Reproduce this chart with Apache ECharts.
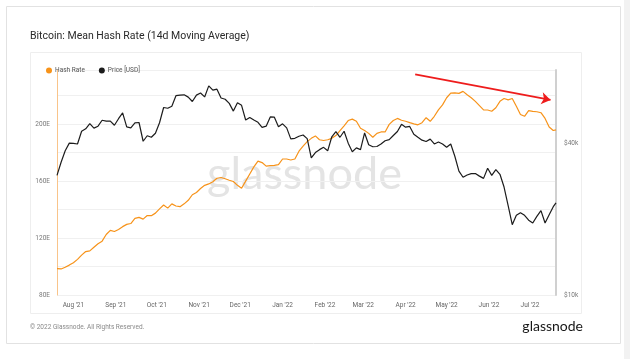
<!DOCTYPE html>
<html><head><meta charset="utf-8">
<script src="https://cdn.jsdelivr.net/npm/echarts@6/dist/echarts.min.js"></script>
<style>html,body{margin:0;padding:0;background:#fff;overflow:hidden}#c{width:630px;height:359px}</style>
</head><body><div id="c"></div>
<script>
// ---- categories (dates) ----
const dates = [
'2021-07-20','2021-07-23','2021-07-26','2021-07-29','2021-08-01','2021-08-04','2021-08-07','2021-08-10','2021-08-13','2021-08-16',
'2021-08-19','2021-08-22','2021-08-25','2021-08-28','2021-08-31','2021-09-03','2021-09-06','2021-09-09','2021-09-12','2021-09-15',
'2021-09-18','2021-09-21','2021-09-24','2021-09-27','2021-09-30','2021-10-03','2021-10-06','2021-10-09','2021-10-12','2021-10-15',
'2021-10-18','2021-10-21','2021-10-24','2021-10-27','2021-10-30','2021-11-02','2021-11-05','2021-11-08','2021-11-11','2021-11-14',
'2021-11-17','2021-11-20','2021-11-23','2021-11-26','2021-11-29','2021-12-02','2021-12-05','2021-12-08','2021-12-11','2021-12-14',
'2021-12-17','2021-12-20','2021-12-23','2021-12-26','2021-12-29','2022-01-01','2022-01-04','2022-01-07','2022-01-10','2022-01-13',
'2022-01-16','2022-01-19','2022-01-22','2022-01-25','2022-01-28','2022-01-31','2022-02-03','2022-02-06','2022-02-09','2022-02-12',
'2022-02-15','2022-02-18','2022-02-21','2022-02-24','2022-02-27','2022-03-02','2022-03-05','2022-03-08','2022-03-11','2022-03-14',
'2022-03-17','2022-03-20','2022-03-23','2022-03-26','2022-03-29','2022-04-01','2022-04-04','2022-04-07','2022-04-10','2022-04-13',
'2022-04-16','2022-04-19','2022-04-22','2022-04-25','2022-04-28','2022-05-01','2022-05-04','2022-05-07','2022-05-10','2022-05-13',
'2022-05-16','2022-05-19','2022-05-22','2022-05-25','2022-05-28','2022-05-31','2022-06-03','2022-06-06','2022-06-09','2022-06-12',
'2022-06-15','2022-06-18','2022-06-21','2022-06-24','2022-06-27','2022-06-30','2022-07-03','2022-07-06','2022-07-09','2022-07-12',
'2022-07-15','2022-07-18','2022-07-20'];

// ---- series: mean hash rate (EH/s, 14d MA) ----
const hashRate = [
98.5,98.3,99.5,101,102.7,105,108,110.5,111,113.5,
116,117.8,122.5,125.4,124.6,126,128,129.6,130.2,133.8,
134.5,133.3,135.8,135.7,137.5,140.5,143.2,141,144,142.5,
142,144,146.5,150.4,152,154.8,157,158,159.5,162,
162.5,161.6,160.6,159.7,157,155,160,165,170,174,
173,170.5,170.8,171,171.5,175.5,175.5,174.8,175.5,181,
184.5,187.7,190,191.7,189,188.5,189,190,192,195.5,
198.8,202.5,203.5,202,197.1,195.5,193.5,190.8,193.5,194.5,
194.5,199.8,202.5,204,202.7,202,201,200.2,199.5,201,
204.5,202,205.5,210,213.5,218.5,221.8,222,221.6,223,
220.6,218.5,216,213,210,209.9,209,211.5,216,218,
217,218,212.5,206.8,205.5,209.5,209,208.7,208,204,
198,195.5,196];

// ---- series: price (USD) ----
const priceUsd = [
29800,33600,37300,40000,39900,39700,44600,45600,47800,45900,
46700,49300,48900,48900,47100,50000,52700,46400,46000,48100,
48300,40700,42800,42200,43800,48200,55400,55000,56000,61700,
62000,62200,60900,58500,62000,63200,61000,67500,64900,65500,
60400,59700,57500,53600,57800,56500,49400,50600,49400,48400,
46200,46700,50800,50700,46500,47700,46000,41600,41800,42600,
43100,41700,35000,36700,37700,38500,37300,42400,44400,42200,
44600,40000,37000,38300,37700,43900,39400,38700,38800,39700,
40900,41300,42900,44500,47500,46300,46600,43400,42200,41100,
40600,41500,39700,40400,39700,38500,39700,35500,31000,29300,
29900,30300,30300,29600,29000,31800,29800,31400,30100,26800,
22600,19000,20700,21200,20700,19800,19300,20500,21600,19300,
20800,22400,23200];

// ---- tick labels ----
const monthTicks = ['2021-08-01','2021-09-01','2021-10-01','2021-11-01','2021-12-01','2022-01-01',
                    '2022-02-01','2022-03-01','2022-04-01','2022-05-01','2022-06-01','2022-07-01'];
const monthLabels = ["Aug '21","Sep '21","Oct '21","Nov '21","Dec '21","Jan '22",
                     "Feb '22","Mar '22","Apr '22","May '22","Jun '22","Jul '22"];
const hashTickValues = [80, 120, 160, 200];
const hashTickLabels = ['80E', '120E', '160E', '200E'];
const priceTickLabels = ['$10k', '$40k'];   // at 10k and 4x10k on the log price axis

// trend arrow annotation (data coordinates)
const arrowStart = ['2022-04-08', 235];
const arrowEnd = ['2022-07-16', 217];

const ts = s => echarts.number.parseDate(s).getTime();
const monthTs = monthTicks.map(ts);
const priceMin = 10000, priceMax = 78000;
const labelAxisMax = Math.log(priceMax / priceMin) / Math.log(4);

const chart = echarts.init(document.getElementById('c'), null, {renderer: 'canvas'});
const F = 'Roboto, "Noto Sans", sans-serif';
chart.setOption({
  animation: false,
  backgroundColor: '#ffffff',
  textStyle: {fontFamily: F},
  graphic: [
    {type: 'rect', z: -10, shape: {x: 624, y: 0, width: 6, height: 359}, style: {fill: '#f2f2f2'}},
    {type: 'rect', z: -9, shape: {x: 6.5, y: 6.5, width: 614, height: 337}, style: {fill: '#fff', stroke: '#e2e2e2', lineWidth: 1}},
    {type: 'rect', z: -8, shape: {x: 30.5, y: 52.5, width: 551, height: 261}, style: {fill: '#fff', stroke: '#eeeeee', lineWidth: 1}},
    {type: 'text', z: 1, left: 30, top: 31, style: {text: 'Bitcoin: Mean Hash Rate (14d Moving Average)', fill: '#2a2a2a', font: '10.5px ' + F}},
    {type: 'text', z: 1, left: 30, top: 324, style: {text: '© 2022 Glassnode. All Rights Reserved.', fill: '#8a8a8a', font: '6.5px ' + F}},
    {type: 'text', z: 1, right: 47, top: 319, style: {text: 'glassnode', fill: '#161616', font: '14px Lato, "Noto Sans", sans-serif'}},
    {type: 'text', z: 0, left: 207, top: 152, style: {text: 'glassnode', fill: '#e4e4e4', font: '45px Lato, "Noto Sans", sans-serif'}}
  ],
  legend: {
    left: 41, top: 62, icon: 'circle', itemWidth: 6, itemHeight: 6, itemGap: 14,
    textStyle: {fontSize: 6.5, color: '#555', fontFamily: F, padding: [0, 0, 0, -2]},
    data: ['Hash Rate', 'Price [USD]']
  },
  grid: {left: 57, right: 74, top: 70, bottom: 64},
  xAxis: {
    type: 'time', min: ts('2021-07-20'), max: ts('2022-07-20'), splitNumber: 12,
    minInterval: 28 * 86400000, maxInterval: 31 * 86400000,
    axisLine: {show: false}, axisTick: {show: false},
    splitLine: {show: false},
    axisLabel: {
      fontSize: 6.5, color: '#666', margin: 7, fontFamily: F, showMinLabel: false, showMaxLabel: false,
      formatter: v => { const i = monthTs.indexOf(v); return i >= 0 ? monthLabels[i] : ''; }
    }
  },
  yAxis: [
    {
      type: 'value', min: 80, max: 238, interval: 20, position: 'left',
      axisLine: {show: true, lineStyle: {color: '#f9c48a', width: 1}},
      axisTick: {show: false},
      splitLine: {lineStyle: {color: '#f0f0f0', width: 1}},
      axisLabel: {fontSize: 6.5, color: '#777', margin: 7, fontFamily: F,
        formatter: v => { const i = hashTickValues.indexOf(v); return i >= 0 ? hashTickLabels[i] : ''; }}
    },
    {
      type: 'log', logBase: 10, min: priceMin, max: priceMax, position: 'right',
      axisLine: {show: true, lineStyle: {color: '#d0d0d0', width: 2}},
      axisTick: {show: false}, splitLine: {show: false}, axisLabel: {show: false}
    },
    {
      type: 'value', min: 0, max: labelAxisMax, interval: 1, position: 'right',
      axisLine: {show: false}, axisTick: {show: false}, splitLine: {show: false},
      axisLabel: {fontSize: 6.5, color: '#777', margin: 8, showMaxLabel: false, fontFamily: F,
        formatter: v => priceTickLabels[v] || ''}
    }
  ],
  series: [
    {
      name: 'Hash Rate', type: 'line', yAxisIndex: 0, showSymbol: false, symbol: 'none',
      color: '#f7931a', lineStyle: {width: 1.2, color: '#f7931a'},
      data: dates.map((d, i) => [d, hashRate[i]]),
      markLine: {
        silent: true, symbol: ['none', 'arrow'], symbolSize: 9,
        lineStyle: {color: '#ee1c1c', width: 1.8, type: 'solid'},
        label: {show: false},
        data: [[{coord: [ts(arrowStart[0]), arrowStart[1]]}, {coord: [ts(arrowEnd[0]), arrowEnd[1]]}]]
      }
    },
    {
      name: 'Price [USD]', type: 'line', yAxisIndex: 1, showSymbol: false, symbol: 'none',
      color: '#1c1c1c', lineStyle: {width: 1.2, color: '#1c1c1c'},
      data: dates.map((d, i) => [d, priceUsd[i]])
    }
  ]
});
</script></body></html>
